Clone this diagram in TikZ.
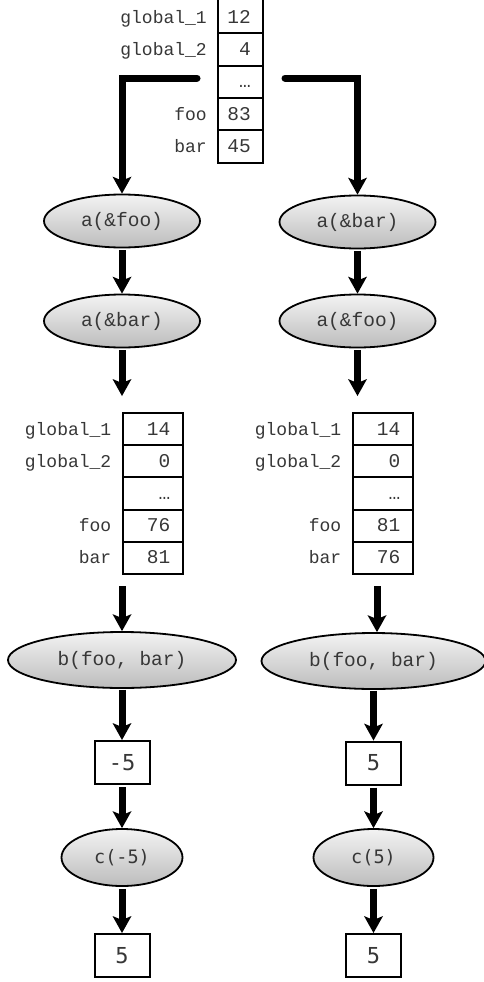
\documentclass[tikz,border=0pt]{standalone}
\usepackage{fontspec}
\setmainfont{Liberation Serif}
\newfontfamily\codefont{Liberation Mono}
\newfontfamily\numfont{DejaVu Sans Mono}
\usetikzlibrary{shapes.geometric,arrows.meta}

\definecolor{shadetop}{RGB}{243,243,243}
\definecolor{shadebot}{RGB}{188,188,188}
\definecolor{ink}{RGB}{55,55,55}

\tikzset{
  cell/.style={draw, line width=2pt, minimum width=45pt, minimum height=32.3pt, inner sep=0pt},
  widecell/.style={cell, minimum width=60pt, minimum height=32.2pt},
  lbl/.style={anchor=base east, inner sep=0pt, text=ink, font=\codefont\fontsize{18}{20}\selectfont},
  val/.style={anchor=base east, inner sep=0pt, text=ink, font=\codefont\fontsize{19.5}{22}\selectfont},
  call/.style={ellipse, draw, line width=1.8pt, inner sep=0pt, top color=shadetop, bottom color=shadebot,
    text=ink, font=\codefont\fontsize{19.5}{22}\selectfont},
  smallcall/.style={call, font=\numfont\fontsize{18.5}{22}\selectfont},
  result/.style={draw, line width=2pt, minimum width=55pt, minimum height=43pt, inner sep=0pt,
    text=ink, font=\numfont\fontsize{22}{24}\selectfont},
  flow/.style={line width=7pt, -{Stealth[length=17pt, width=19pt, inset=4pt, line width=0pt]}},
}

\begin{document}
\begin{tikzpicture}[x=1pt, y=-1pt]
\useasboundingbox (0,0) rectangle (484,982);

% initial memory (the first cell runs off the top edge)
\node[cell, minimum height=34.3pt] (m1) at (240.5,16.2) {};
\node[cell] (m2) at (240.5,49.5) {};
\node[cell] (m3) at (240.5,81.8) {};
\node[cell] (m4) at (240.5,114.1) {};
\node[cell] (m5) at (240.5,146.4) {};
\node[lbl] (m1l) at ([xshift=-10pt,yshift=-7pt]m1.west) {global\_1};
\node[lbl] (m2l) at ([xshift=-10pt,yshift=-6pt]m2.west) {global\_2};
\node[lbl] (m4l) at ([xshift=-10pt,yshift=-6pt]m4.west) {foo};
\node[lbl] (m5l) at ([xshift=-10pt,yshift=-6pt]m5.west) {bar};
\node[val] (m1v) at ([xshift=-13pt,yshift=-7pt]m1.east) {12};
\node[val] (m2v) at ([xshift=-13pt,yshift=-6pt]m2.east) {4};
\node[val] (m3v) at ([xshift=-13pt,yshift=-6pt]m3.east) {…};
\node[val] (m4v) at ([xshift=-13pt,yshift=-6pt]m4.east) {83};
\node[val] (m5v) at ([xshift=-13pt,yshift=-6pt]m5.east) {45};

% calls to a()
\node[call, minimum width=156pt, minimum height=53pt] (l1) at (122,221) {a(\&foo)};
\node[call, minimum width=156pt, minimum height=53pt] (l2) at (122,321) {a(\&bar)};
\node[call, minimum width=156pt, minimum height=53pt] (r1) at (357.5,222) {a(\&bar)};
\node[call, minimum width=156pt, minimum height=53pt] (r2) at (357.5,321) {a(\&foo)};

% memory after the calls
\foreach \side/\cx in {lt/152.5, rt/382.5}{
  \node[widecell] (\side1) at (\cx,429.1) {};
  \node[widecell] (\side2) at (\cx,461.3) {};
  \node[widecell] (\side3) at (\cx,493.5) {};
  \node[widecell] (\side4) at (\cx,525.7) {};
  \node[widecell] (\side5) at (\cx,557.9) {};
  \node[lbl] (\side1l) at ([xshift=-10pt,yshift=-6pt]\side1.west) {global\_1};
  \node[lbl] (\side2l) at ([xshift=-10pt,yshift=-6pt]\side2.west) {global\_2};
  \node[lbl] (\side4l) at ([xshift=-10pt,yshift=-6pt]\side4.west) {foo};
  \node[lbl] (\side5l) at ([xshift=-10pt,yshift=-6pt]\side5.west) {bar};
  \node[val] (\side1v) at ([xshift=-13pt,yshift=-6pt]\side1.east) {14};
  \node[val] (\side2v) at ([xshift=-13pt,yshift=-6pt]\side2.east) {0};
  \node[val] (\side3v) at ([xshift=-13pt,yshift=-6pt]\side3.east) {…};
}
\node[val] (lt4v) at ([xshift=-13pt,yshift=-6pt]lt4.east) {76};
\node[val] (lt5v) at ([xshift=-13pt,yshift=-6pt]lt5.east) {81};
\node[val] (rt4v) at ([xshift=-13pt,yshift=-6pt]rt4.east) {81};
\node[val] (rt5v) at ([xshift=-13pt,yshift=-6pt]rt5.east) {76};

% b() and c()
\node[call, minimum width=228pt, minimum height=56pt] (bl) at (122,660) {b(foo, bar)};
\node[call, minimum width=224pt, minimum height=56pt] (br) at (373.5,661) {b(foo, bar)};
\node[result] (xl) at (122,762.5) {-5};
\node[result] (xr) at (373.5,763) {5};
\node[smallcall, minimum width=121pt, minimum height=57pt] (cl) at (122,857.5) {c(-5)};
\node[smallcall, minimum width=120pt, minimum height=57pt] (cr) at (373.5,857.5) {c(5)};
\node[result] (fl) at (122,955.5) {5};
\node[result] (fr) at (373.5,955.5) {5};

% connectors
\coordinate (sl) at (197,78);
\coordinate (sr) at (285,78);
\draw[flow, line cap=round] (sl) -| (l1.north);
\draw[flow, line cap=round] (sr) -| (r1.north);
\draw[flow, shorten <=2pt] (l1.south) -- (l2.north);
\draw[flow, shorten <=2pt] (r1.south) -- (r2.north);
\draw[flow, shorten <=2pt, shorten >=16pt] (l2.south) -- (l2.south |- lt1.north);
\draw[flow, shorten <=2pt, shorten >=16pt] (r2.south) -- (r2.south |- rt1.north);
\draw[flow, shorten <=11pt] (lt5.south -| bl.north) -- (bl.north);
\coordinate (rdrop) at ([xshift=-5.5pt]rt5.south);
\draw[flow, shorten <=11pt] (rdrop) -- (rdrop |- br.north);
\draw[flow, shorten <=1pt] (bl.south) -- (xl.north);
\draw[flow, shorten <=1pt] (br.south) -- (xr.north);
\draw[flow, shorten <=2pt] (xl.south) -- (cl.north);
\draw[flow, shorten <=2pt] (xr.south) -- (cr.north);
\draw[flow, shorten <=2pt] (cl.south) -- (fl.north);
\draw[flow, shorten <=2pt] (cr.south) -- (fr.north);
\end{tikzpicture}
\end{document}
